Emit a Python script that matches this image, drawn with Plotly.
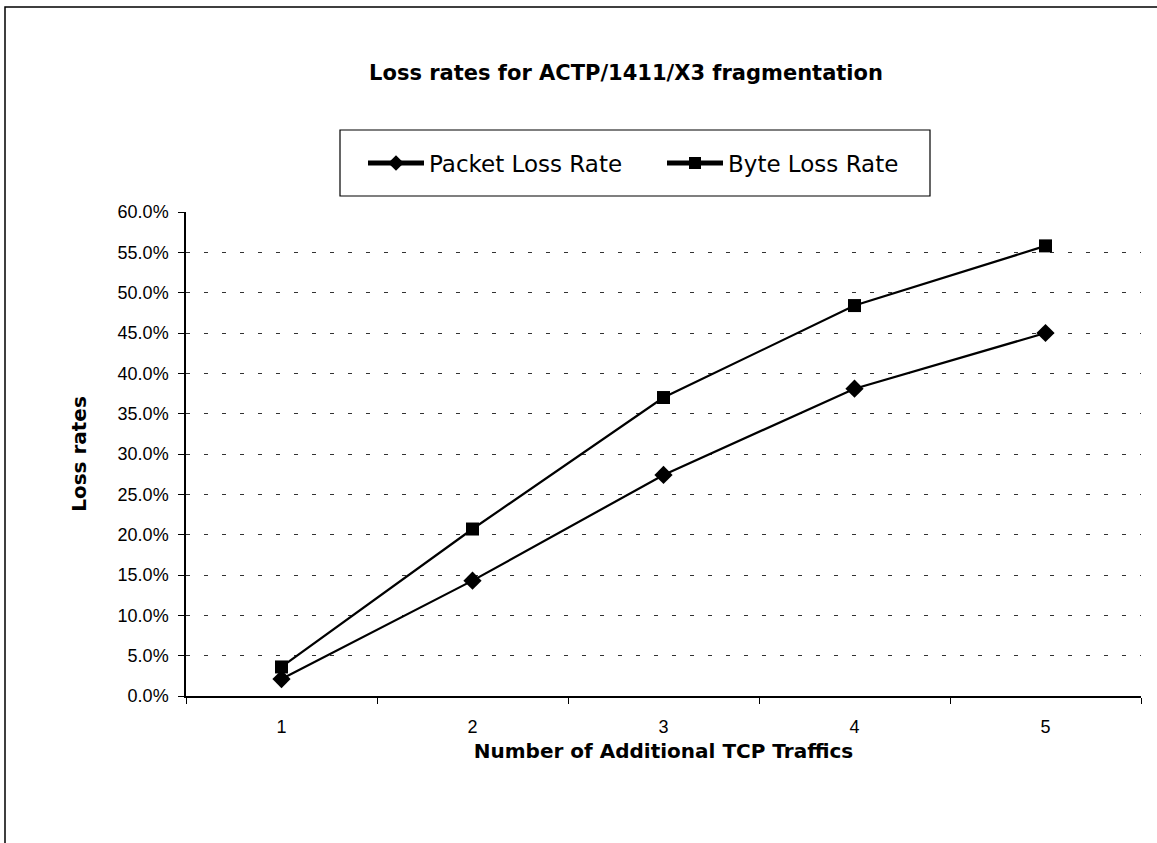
import plotly.graph_objects as go

categories = ["1", "2", "3", "4", "5"]
packet_loss = [0.021, 0.143, 0.274, 0.381, 0.450]
byte_loss = [0.036, 0.207, 0.370, 0.484, 0.558]
y_ticks = [i * 0.05 for i in range(13)]

W, H = 1157, 843
L, R, T, B = 186, 16, 212, 147
PW, PH = W - L - R, H - T - B


def px_x(x):
    return (x - L) / PW


def px_y(y):
    return (H - B - y) / PH


fig = go.Figure()
fig.add_trace(go.Scatter(
    x=categories, y=packet_loss, name="Packet Loss Rate",
    mode="lines+markers",
    line=dict(color="black", width=2.2),
    marker=dict(symbol="diamond", size=14, color="black"),
))
fig.add_trace(go.Scatter(
    x=categories, y=byte_loss, name="Byte Loss Rate",
    mode="lines+markers",
    line=dict(color="black", width=2.2),
    marker=dict(symbol="square", size=13, color="black"),
))

tick_font = "Liberation Sans, Arial, sans-serif"
text_font = "DejaVu Sans, Liberation Sans, sans-serif"
fig.update_layout(
    width=W, height=H,
    margin=dict(l=L, r=R, t=T, b=B),
    paper_bgcolor="white", plot_bgcolor="white",
    font=dict(family=tick_font, color="black", size=18),
    title=dict(text="<b>Loss rates for ACTP/1411/X3 fragmentation</b>",
               x=626 / W, xanchor="center", y=1 - 73 / H, yanchor="middle",
               font=dict(size=21, family=text_font)),
    showlegend=True,
    legend=dict(orientation="h", x=px_x(363), xanchor="left",
                y=px_y(163), yanchor="middle",
                borderwidth=0, bgcolor="rgba(0,0,0,0)",
                font=dict(size=23, family=text_font), itemwidth=56,
                entrywidth=228, entrywidthmode="pixels", itemsizing="constant"),
    xaxis=dict(type="category", range=[-0.5, 4.5], tickson="boundaries",
               ticks="outside", ticklen=6, ticklabelstandoff=14,
               tickcolor="black", showline=True, linecolor="black", linewidth=1.5,
               showgrid=False, tickfont=dict(size=18),
               title=dict(text="<b>Number of Additional TCP Traffics</b>",
                          font=dict(size=20, family=text_font), standoff=8)),
    yaxis=dict(range=[0, 0.6], tickvals=y_ticks, tickformat=".1%", ticks="outside",
               ticklen=6, ticklabelstandoff=6, tickcolor="black", showline=True,
               linecolor="black", linewidth=1.5, showgrid=True, gridcolor="#333",
               gridwidth=1, griddash="4px,14px", zeroline=False,
               tickfont=dict(size=18),
               title=dict(text="<b>Loss rates</b>", font=dict(size=20, family=text_font),
                          standoff=26)),
)

# legend frame
fig.add_shape(type="rect", xref="paper", yref="paper",
              x0=px_x(340), x1=px_x(930), y0=px_y(196), y1=px_y(130),
              line=dict(color="black", width=1.2), layer="below")

# outer chart border (left and top visible in the scan)
fig.add_shape(type="rect", xref="paper", yref="paper",
              x0=px_x(5), x1=px_x(W + 20), y0=px_y(H + 20), y1=px_y(7),
              line=dict(color="black", width=1.5), layer="below")

fig.write_html("out.html", config={"displayModeBar": False},
               post_script="document.body.style.margin='0';")
